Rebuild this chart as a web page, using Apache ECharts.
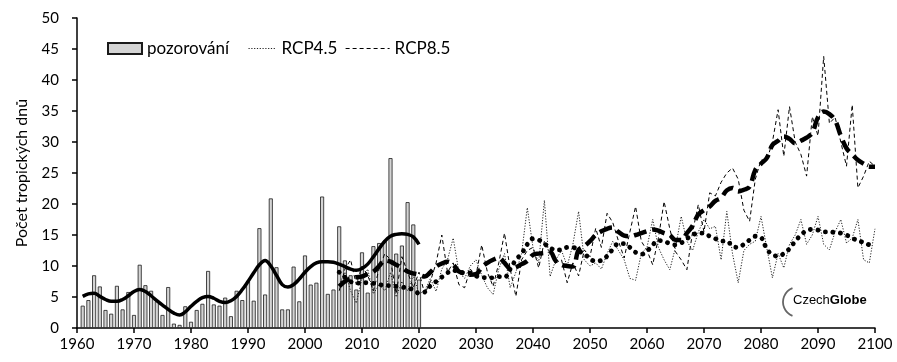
<!DOCTYPE html>
<html><head><meta charset="utf-8">
<script src="https://cdn.jsdelivr.net/npm/echarts@6/dist/echarts.min.js"></script>
<style>html,body{margin:0;padding:0;background:#fff}#c{width:897px;height:362px}</style>
</head><body><div id="c"></div>
<script>
// ---- data ----
const obsStartYear = 1961;
const rcpStartYear = 2006;
const observed = [
  3.6, 4.5, 8.5, 6.7, 2.9, 2.3, 6.8, 3.0, 5.8, 2.1,
  10.2, 6.9, 6.0, 4.3, 2.1, 6.6, 0.7, 0.5, 3.5, 1.0,
  2.9, 3.9, 9.2, 3.8, 3.6, 4.9, 1.9, 6.0, 4.5, 7.5,
  4.4, 16.1, 5.4, 20.9, 9.8, 3.0, 3.0, 9.9, 4.3, 11.7,
  7.0, 7.3, 21.2, 5.5, 6.2, 16.4, 10.9, 8.5, 6.2, 12.2,
  5.7, 13.2, 13.7, 14.1, 27.4, 12.0, 13.3, 20.3, 16.7, 7.8
];
const observedSmooth = [
  5.1, 5.5, 5.6, 5.1, 4.6, 4.3, 4.3, 4.6, 5.2, 5.9,
  6.2, 5.9, 5.2, 4.4, 3.7, 3.0, 2.4, 2.1, 2.6, 3.5,
  4.3, 4.9, 5.1, 4.8, 4.3, 4.1, 4.4, 5.1, 6.2, 7.5,
  8.9, 10.2, 10.9, 10.0, 8.5, 7.0, 6.6, 7.0, 7.9, 9.0,
  9.9, 10.5, 10.7, 10.7, 10.6, 10.3, 9.9, 9.5, 9.3, 9.6,
  10.3, 11.5, 12.8, 14.0, 14.8, 15.1, 15.2, 15.1, 14.7, 13.5
];
const rcp45 = [
  7.0, 9.0, 6.0, 4.0, 8.0,
  9.5, 5.5, 7.0, 6.0, 9.0, 5.0, 7.5, 6.0, 8.5, 5.5,
  6.0, 8.0, 5.9, 9.5, 11.0, 14.5, 9.0, 8.0, 10.0, 11.0,
  8.5, 6.5, 5.4, 9.5, 12.0, 6.5, 9.0, 12.0, 19.4, 13.0,
  10.5, 20.6, 8.3, 11.0, 12.5, 10.0, 13.5, 18.8, 11.0, 10.0,
  10.5, 9.5, 12.0, 14.0, 12.5, 11.0, 8.0, 7.7, 12.0, 13.0,
  17.5, 13.0, 11.0, 9.4, 13.0, 18.0, 14.0, 12.5, 15.5, 17.5,
  16.0, 16.4, 11.0, 18.8, 12.0, 7.3, 12.5, 13.5, 14.0, 18.0,
  13.0, 8.1, 12.0, 9.7, 13.5, 15.0, 17.5, 13.5, 15.0, 18.0,
  13.5, 12.6, 15.5, 17.5, 13.7, 14.5, 17.5, 11.0, 10.5, 16.0
];
const rcp85 = [
  6.0, 9.5, 11.0, 7.0, 10.0,
  8.5, 6.0, 9.5, 12.0, 11.0, 5.5, 11.5, 9.0, 6.5, 9.0,
  5.5, 7.5, 10.5, 15.0, 9.0, 10.5, 7.0, 6.5, 9.5, 8.5,
  13.4, 9.0, 6.7, 10.5, 15.3, 9.5, 5.1, 11.0, 12.5, 13.0,
  9.7, 14.0, 12.0, 10.5, 11.0, 7.3, 10.5, 8.4, 12.6, 11.5,
  16.1, 13.0, 18.5, 17.0, 14.0, 11.3, 15.5, 19.6, 14.0, 12.5,
  10.2, 14.5, 20.4, 16.0, 12.3, 11.0, 9.4, 15.5, 19.9, 15.5,
  21.8, 21.3, 23.5, 25.0, 25.8, 24.0, 19.0, 17.2, 24.0, 27.1,
  27.0, 30.0, 35.2, 27.7, 35.7, 30.0, 28.0, 24.5, 34.1, 31.0,
  43.8, 33.0, 34.0, 30.0, 26.1, 36.0, 22.6, 24.5, 26.9, 26.1
];
const rcp45Smooth = [
  9.0, 8.2, 7.5, 7.2, 7.3,
  7.3, 7.2, 7.0, 6.9, 6.8, 6.7, 6.6, 6.4, 6.2, 5.6,
  5.8, 6.8, 7.5, 8.2, 8.9, 9.3, 9.1, 8.9, 8.9, 8.4,
  8.2, 8.1, 8.1, 8.3, 8.2, 9.5, 11.0, 12.0, 13.5, 14.4,
  14.2, 13.6, 12.9, 12.6, 12.6, 13.0, 13.0, 12.4, 12.0, 11.1,
  10.8, 10.9, 11.6, 12.7, 13.6, 13.6, 13.0, 12.2, 11.9, 12.4,
  13.4, 14.1, 14.0, 13.6, 13.4, 13.7, 14.4, 15.0, 15.3, 15.3,
  14.8, 14.4, 14.0, 14.0, 13.2, 13.0, 13.5, 14.2, 14.8, 14.6,
  12.8, 11.8, 11.6, 12.0, 12.8, 14.0, 15.0, 15.7, 15.9, 15.8,
  15.5, 15.5, 15.4, 15.3, 15.0, 14.5, 14.1, 13.8, 13.4, 13.0
];
const rcp85Smooth = [
  6.7, 7.5, 8.0, 8.2, 8.3,
  8.7, 9.1, 10.0, 10.9, 10.7, 10.2, 9.7, 9.1, 8.8, 8.6,
  8.3, 9.0, 9.9, 10.4, 10.7, 10.2, 9.1, 8.8, 8.6, 8.7,
  9.8, 10.5, 11.0, 11.3, 10.5, 9.6, 9.8, 10.3, 10.8, 11.8,
  12.0, 12.1, 12.2, 10.8, 10.2, 10.0, 9.9, 12.6, 13.2, 14.0,
  15.0, 15.6, 16.0, 16.2, 15.5, 14.9, 14.8, 15.0, 15.3, 15.6,
  15.9, 15.7, 15.3, 15.0, 14.2, 14.2, 15.3, 16.5, 18.3, 19.0,
  19.6, 20.5, 21.0, 22.2, 22.6, 22.0, 22.3, 22.8, 25.5, 26.5,
  27.4, 29.5, 30.2, 30.9, 30.5, 29.8, 30.2, 30.7, 31.5, 34.0,
  34.9, 34.5, 33.5, 31.0, 29.0, 28.0, 27.1, 26.5, 26.0, 26.0
];
const xMin = 1960, xMax = 2100, xStep = 10;
const yMin = 0, yMax = 50, yStep = 5;
const yTitle = 'Počet tropických dnů';
const names = ['pozorování', 'RCP4.5', 'RCP8.5'];

// ---- build ----
const pairs = (start, arr) => arr.map((v, i) => [start + i, v]);
const FONT = 'Lato';
const legendText = { fontSize: 17, color: '#000', fontFamily: FONT };
const hideSym = { color: 'transparent', borderColor: 'transparent', borderWidth: 0 };

const option = {
  animation: false,
  backgroundColor: '#fff',
  textStyle: { fontFamily: FONT },
  grid: { left: 77, right: 22, top: 18, bottom: 34 },
  legend: [
    { data: [names[0]], left: 107, top: 40, padding: 0, itemWidth: 34, itemHeight: 11, icon: 'rect', itemGap: 5,
      textStyle: legendText },
    { data: [names[1]], left: 248, top: 40, padding: 0, itemWidth: 28, itemHeight: 11,
      itemStyle: hideSym, lineStyle: { width: 1, type: [1.2, 1.6], color: '#222' }, textStyle: legendText },
    { data: [names[2]], left: 345, top: 40, padding: 0, itemWidth: 44, itemHeight: 11,
      itemStyle: hideSym, lineStyle: { width: 1.2, type: [4, 3], color: '#000' }, textStyle: legendText }
  ],
  xAxis: {
    type: 'value', min: xMin, max: xMax, interval: xStep,
    axisLine: { lineStyle: { color: '#000', width: 1.5 } },
    axisTick: { show: true, length: 5, lineStyle: { color: '#000', width: 1.5 } },
    axisLabel: { color: '#000', fontSize: 15, margin: 9, fontFamily: FONT, formatter: v => String(v) },
    splitLine: { show: false }
  },
  yAxis: {
    type: 'value', min: yMin, max: yMax, interval: yStep,
    name: yTitle, nameLocation: 'middle', nameGap: 47,
    nameTextStyle: { fontSize: 16, color: '#000', fontFamily: FONT },
    axisLine: { show: true, lineStyle: { color: '#000', width: 1.5 } },
    axisTick: { show: true, length: 5, lineStyle: { color: '#000', width: 1.5 } },
    axisLabel: { color: '#000', fontSize: 15, margin: 18, fontFamily: FONT },
    splitLine: { show: false }
  },
  series: [
    { name: names[0], type: 'bar', data: pairs(obsStartYear, observed), barWidth: 4,
      itemStyle: { color: '#d4d4d4', borderColor: '#1a1a1a', borderWidth: 0.8 }, z: 2 },
    { name: names[1], type: 'line', data: pairs(rcpStartYear, rcp45), symbol: 'none', color: '#222',
      lineStyle: { color: '#222', width: 1, type: [1.2, 1.6] }, z: 3 },
    { name: names[2], type: 'line', data: pairs(rcpStartYear, rcp85), symbol: 'none', color: '#000',
      lineStyle: { color: '#000', width: 1, type: [4, 3] }, z: 3 },
    { name: 'obsSmooth', type: 'line', data: pairs(obsStartYear, observedSmooth), symbol: 'none', smooth: 0.4,
      lineStyle: { color: '#000', width: 3.5 }, z: 5 },
    { name: 'rcp45Smooth', type: 'line', data: pairs(rcpStartYear, rcp45Smooth), symbol: 'none', smooth: 0.4,
      lineStyle: { color: '#000', width: 4.8, type: [0.1, 7.5], cap: 'round' }, z: 4 },
    { name: 'rcp85Smooth', type: 'line', data: pairs(rcpStartYear, rcp85Smooth), symbol: 'none', smooth: 0.4,
      lineStyle: { color: '#000', width: 4.5, type: [13, 6] }, z: 4 }
  ],
  graphic: [
    { type: 'arc', shape: { cx: 798, cy: 302, r: 15, startAngle: Math.PI * 0.62, endAngle: Math.PI * 1.38 },
      style: { stroke: '#666', fill: null, lineWidth: 1.8 } },
    { type: 'text', left: 793, top: 294,
      style: { text: '{a|Czech}{b|Globe}', rich: {
        a: { fontSize: 13, color: '#8a8a8a', fontFamily: 'Liberation Sans' },
        b: { fontSize: 13, color: '#555', fontWeight: 'bold', fontFamily: 'Liberation Sans' } } } }
  ]
};
const chart = echarts.init(document.getElementById('c'), null, { renderer: 'canvas' });
chart.setOption(option);
</script></body></html>
